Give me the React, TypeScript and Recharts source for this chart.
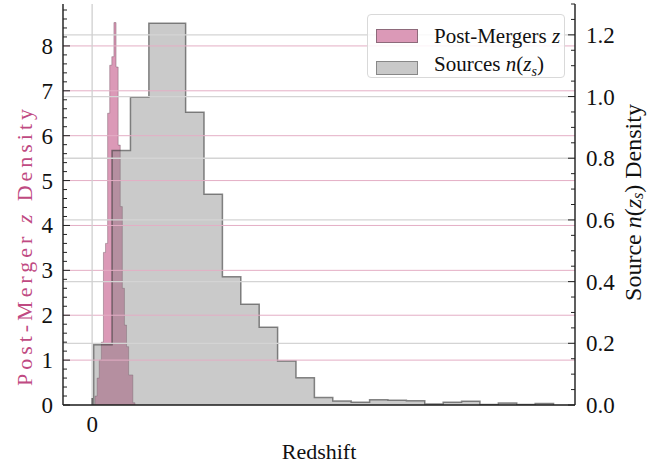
import React from 'react';
import { ComposedChart, Area, XAxis, YAxis, ReferenceLine, Legend } from 'recharts';

// ---- data ----
// Source redshift distribution n(z_s): histogram bins (right axis)
const sourceBinStart = 0.01;
const sourceBinWidth = 0.12;
const sourceDensity = [
  0.195, 0.825, 0.998, 1.238, 1.238, 0.949, 0.683, 0.416, 0.327, 0.252,
  0.143, 0.088, 0.024, 0.013, 0.009, 0.017, 0.015, 0.014, 0.003, 0.009,
  0.012, 0.002, 0.0065, 0.002, 0.005,
];

// Post-merger redshift distribution: histogram bins (left axis)
const mergerBinStart = 0.019;
const mergerBinWidth = 0.0137;
const mergerDensity = [
  0.2, 0.6, 1.0, 1.4, 3.4, 3.6, 6.5, 7.57, 7.76, 8.52,
  7.53, 5.79, 4.42, 2.6, 1.78, 1.3, 0.67, 0.67, 0.05,
];

// ---- axes ----
const xDomain = [-0.19, 3.15];
const xTicks = [0];
const leftDomain = [0, 8.934];
const leftMajorTicks = [0, 1, 2, 3, 4, 5, 6, 7, 8];
const leftMinorStep = 0.2;
const rightDomain = [0, 1.3];
const rightMajorTicks = [0, 0.2, 0.4, 0.6, 0.8, 1.0, 1.2];
const rightMinorStep = 0.05;

const FONT = '"Liberation Serif", "Times New Roman", serif';
const PINK_TEXT = '#bf4a82';
const TICK_FS = 23;

function minorTicks(max: number, step: number) {
  const out: number[] = [];
  for (let i = 0; i * step <= max + 1e-9; i++) out.push(+(i * step).toFixed(4));
  return out;
}
const leftTicks = minorTicks(leftDomain[1], leftMinorStep);
const rightTicks = minorTicks(rightDomain[1], rightMinorStep);

function isMajor(v: number, majors: number[]) {
  return majors.some((m) => Math.abs(m - v) < 1e-6);
}

function histPoints(start: number, width: number, values: number[], key: string) {
  const pts: any[] = [{ x: start, [key]: 0 }];
  values.forEach((v, i) => pts.push({ x: start + i * width, [key]: v }));
  pts.push({ x: start + values.length * width, [key]: 0 });
  return pts;
}

const sourcePts = histPoints(sourceBinStart, sourceBinWidth, sourceDensity, 'src');
const mergerPts = histPoints(mergerBinStart, mergerBinWidth, mergerDensity, 'pm');

const LeftTick = (props: any) => {
  const { x, y, payload } = props;
  const major = isMajor(payload.value, leftMajorTicks);
  return (
    <g>
      <line x1={x} x2={x + (major ? 7 : 4)} y1={y} y2={y} stroke="#222" strokeWidth={1} />
      {major && (
        <text x={x - 10} y={y} dy={8} textAnchor="end" fontFamily={FONT} fontSize={TICK_FS} fill="#111">
          {String(payload.value)}
        </text>
      )}
    </g>
  );
};

const RightTick = (props: any) => {
  const { x, y, payload } = props;
  const major = isMajor(payload.value, rightMajorTicks);
  return (
    <g>
      <line x1={x} x2={x - (major ? 7 : 4)} y1={y} y2={y} stroke="#222" strokeWidth={1} />
      {major && (
        <text x={x + 11} y={y} dy={8} textAnchor="start" fontFamily={FONT} fontSize={TICK_FS} fill="#111">
          {payload.value.toFixed(1)}
        </text>
      )}
    </g>
  );
};

const BottomTick = (props: any) => {
  const { x, y, payload } = props;
  return (
    <g>
      <line x1={x} x2={x} y1={y} y2={y - 7} stroke="#222" strokeWidth={1} />
      <text x={x} y={y + 27} textAnchor="middle" fontFamily={FONT} fontSize={TICK_FS} fill="#111">
        {String(payload.value)}
      </text>
    </g>
  );
};

const TopTick = (props: any) => {
  const { x, y } = props;
  return <line x1={x} x2={x} y1={y} y2={y + 7} stroke="#222" strokeWidth={1} />;
};

const LeftLabel = (props: any) => {
  const vb = props.viewBox || { x: 0, y: 4, width: 63, height: 401 };
  const cx = vb.x + 24;
  const cy = vb.y + vb.height / 2 + 43;
  return (
    <text
      x={cx}
      y={cy}
      transform={`rotate(-90 ${cx} ${cy})`}
      textAnchor="middle"
      dominantBaseline="central"
      fontFamily={FONT}
      fontSize={22}
      fill={PINK_TEXT}
      textLength={277}
      lengthAdjust="spacing"
    >
      Post-Merger <tspan fontStyle="italic">z</tspan> Density
    </text>
  );
};

const RightLabel = (props: any) => {
  const vb = props.viewBox || { x: 575, y: 4, width: 90, height: 401 };
  const cx = vb.x + 58;
  const cy = vb.y + vb.height / 2 - 2;
  return (
    <text
      x={cx}
      y={cy}
      transform={`rotate(-90 ${cx} ${cy})`}
      textAnchor="middle"
      dominantBaseline="central"
      fontFamily={FONT}
      fontSize={24}
      fill="#111"
    >
      Source <tspan fontStyle="italic">n</tspan>(<tspan fontStyle="italic">z</tspan>
      <tspan fontStyle="italic" fontSize={16} dy={4}>s</tspan>
      <tspan dy={-4}>)</tspan> Density
    </text>
  );
};

const BottomLabel = (props: any) => {
  const vb = props.viewBox || { x: 63, y: 405, width: 512, height: 61 };
  return (
    <text x={vb.x + vb.width / 2} y={vb.y + 54} textAnchor="middle" fontFamily={FONT} fontSize={22} fill="#111">
      Redshift
    </text>
  );
};

const renderLegend = () => {
  const swatch = (bg: string, border: string) => (
    <span
      style={{
        display: 'inline-block',
        width: 42,
        height: 14,
        background: bg,
        border: `1.5px solid ${border}`,
        boxSizing: 'border-box',
        marginRight: 16,
        verticalAlign: 'middle',
      }}
    />
  );
  return (
    <div
      style={{
        width: 198,
        height: 64,
        boxSizing: 'border-box',
        background: 'rgba(255,255,255,0.85)',
        border: '1px solid #d9d9d9',
        borderRadius: 4,
        fontFamily: FONT,
        fontSize: 21,
        color: '#111',
        padding: '5px 0 0 8px',
        lineHeight: '28px',
        whiteSpace: 'nowrap',
      }}
    >
      <div>
        {swatch('rgb(219,153,183)', '#8e6a7b')}
        <span style={{ verticalAlign: 'middle' }}>
          Post-Mergers <i>z</i>
        </span>
      </div>
      <div>
        {swatch('rgb(201,201,201)', '#888')}
        <span style={{ verticalAlign: 'middle' }}>
          Sources <i>n</i>(<i>z</i>
          <sub style={{ fontSize: 14 }}>
            <i>s</i>
          </sub>
          )
        </span>
      </div>
    </div>
  );
};

export default function App() {
  return (
    <div style={{ position: 'absolute', left: 0, top: 0, width: 665, height: 466, background: '#fff' }}>
      <ComposedChart width={665} height={466} margin={{ top: 4, right: 0, bottom: 0, left: 0 }}>
        <XAxis
          xAxisId="bottom"
          type="number"
          dataKey="x"
          domain={xDomain}
          allowDataOverflow
          ticks={xTicks}
          interval={0}
          height={61}
          tickSize={0}
          tickMargin={0}
          tick={BottomTick}
          tickLine={false}
          axisLine={{ stroke: '#1a1a1a', strokeWidth: 1.4 }}
          label={<BottomLabel />}
        />
        <XAxis
          xAxisId="top"
          orientation="top"
          type="number"
          dataKey="x"
          domain={xDomain}
          allowDataOverflow
          ticks={xTicks}
          interval={0}
          height={0}
          tickSize={0}
          tickMargin={0}
          tick={TopTick}
          tickLine={false}
          axisLine={{ stroke: '#1a1a1a', strokeWidth: 1.4 }}
        />
        <YAxis
          yAxisId="left"
          width={63}
          domain={leftDomain}
          allowDataOverflow
          ticks={leftTicks}
          interval={0}
          tickSize={0}
          tickMargin={0}
          tick={LeftTick}
          tickLine={false}
          axisLine={{ stroke: '#1a1a1a', strokeWidth: 1.4 }}
          label={<LeftLabel />}
        />
        <YAxis
          yAxisId="right"
          orientation="right"
          width={90}
          domain={rightDomain}
          allowDataOverflow
          ticks={rightTicks}
          interval={0}
          tickSize={0}
          tickMargin={0}
          tick={RightTick}
          tickLine={false}
          axisLine={{ stroke: '#1a1a1a', strokeWidth: 1.4 }}
          label={<RightLabel />}
        />
        {rightMajorTicks
          .filter((t) => t > 0)
          .map((t) => (
            <ReferenceLine key={'g' + t} yAxisId="right" xAxisId="bottom" y={t} stroke="#d4d4d4" strokeWidth={1.3} />
          ))}
        {leftMajorTicks
          .filter((t) => t > 0)
          .map((t) => (
            <ReferenceLine key={'p' + t} yAxisId="left" xAxisId="bottom" y={t} stroke="#e4aec5" strokeWidth={1} />
          ))}
        <ReferenceLine x={0} xAxisId="bottom" yAxisId="left" stroke="#cfcfcf" strokeWidth={1.3} />
        <Area
          data={mergerPts}
          dataKey="pm"
          xAxisId="bottom"
          yAxisId="left"
          type="stepAfter"
          fill="#b8336f"
          fillOpacity={0.5}
          stroke="#6a4a5a"
          strokeOpacity={0.5}
          strokeWidth={0.8}
          isAnimationActive={false}
          dot={false}
          activeDot={false}
        />
        <Area
          data={sourcePts}
          dataKey="src"
          xAxisId="bottom"
          yAxisId="right"
          type="stepAfter"
          fill="#808080"
          fillOpacity={0.42}
          stroke="#3a3a3a"
          strokeOpacity={0.6}
          strokeWidth={1.5}
          isAnimationActive={false}
          dot={false}
          activeDot={false}
        />
        <Legend
          layout="horizontal"
          verticalAlign="middle"
          align="center"
          content={renderLegend}
          wrapperStyle={{ position: 'absolute', left: 367, top: 14, width: 198, height: 64 }}
        />
      </ComposedChart>
    </div>
  );
}
